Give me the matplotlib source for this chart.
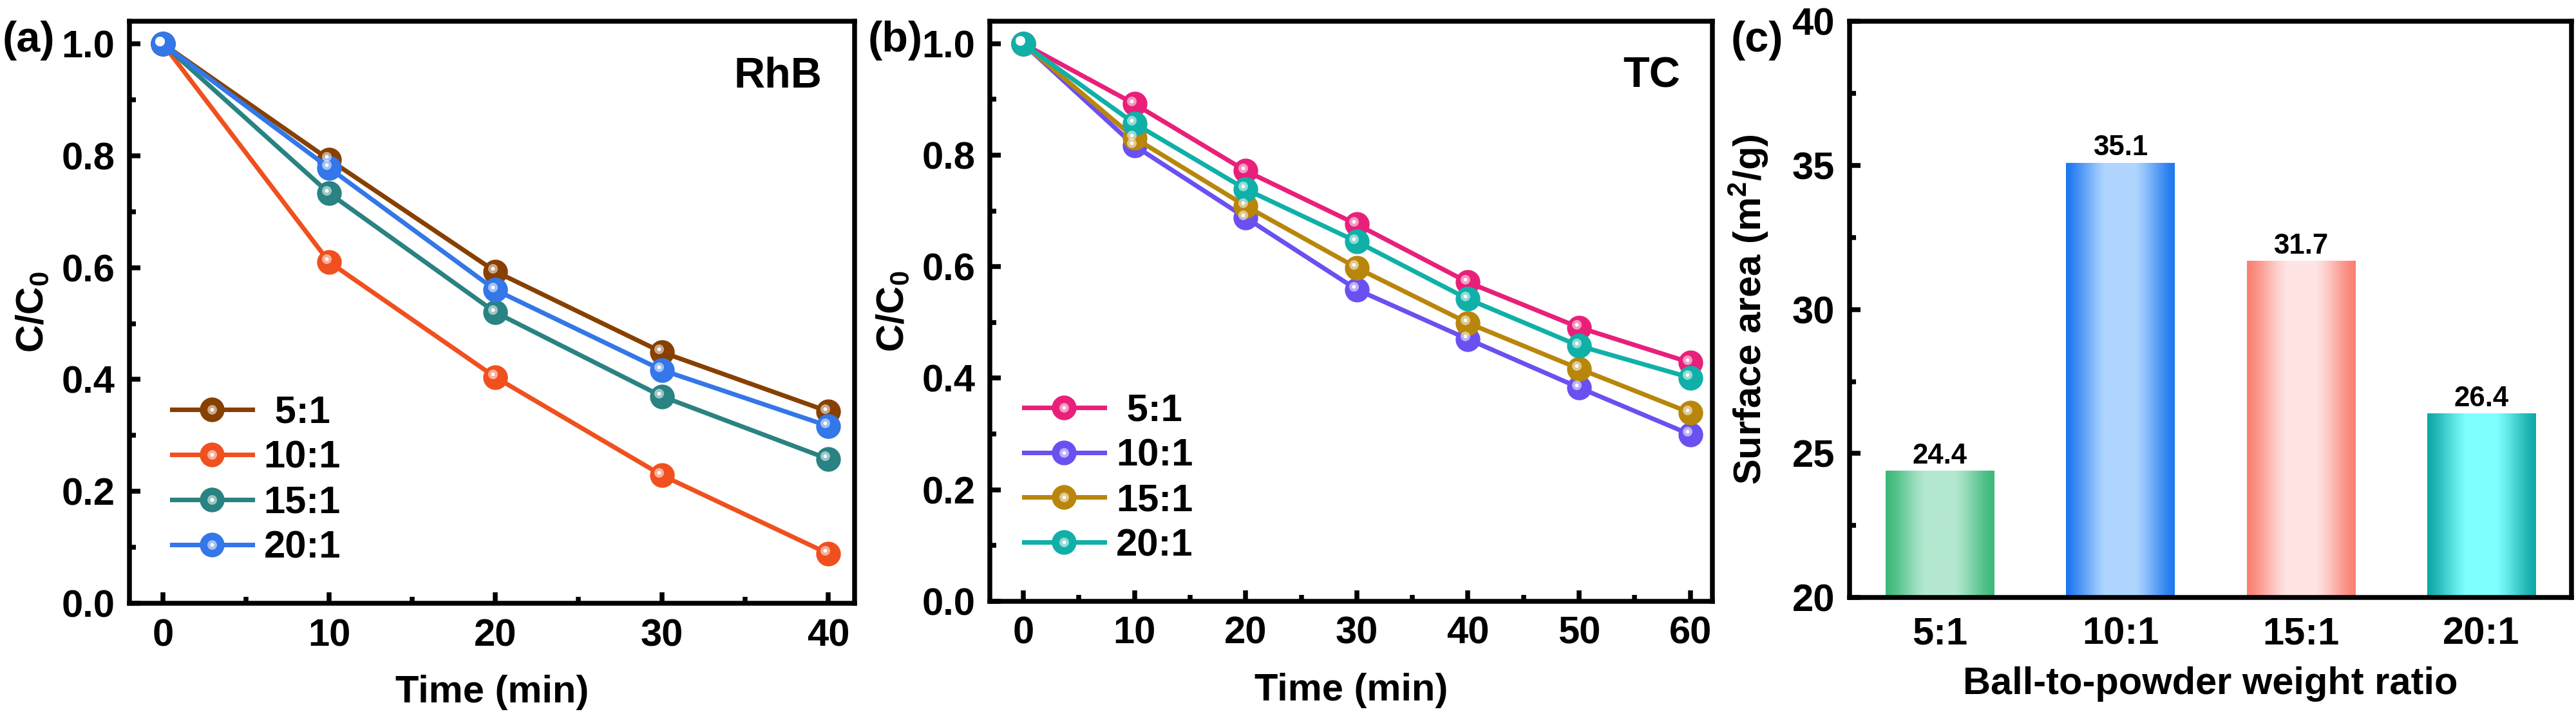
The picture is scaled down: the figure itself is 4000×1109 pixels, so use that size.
import numpy as np
import matplotlib
matplotlib.use("Agg")
import matplotlib.pyplot as plt
from matplotlib.ticker import MultipleLocator
from matplotlib.transforms import ScaledTranslation
from matplotlib.legend_handler import HandlerTuple
from matplotlib.colors import to_rgb

plt.rcParams['font.family'] = ['Liberation Sans', 'DejaVu Sans']
plt.rcParams['font.weight'] = 'bold'
plt.rcParams['axes.labelweight'] = 'bold'
plt.rcParams['mathtext.fontset'] = 'custom'
plt.rcParams['mathtext.rm'] = 'Liberation Sans:bold'
plt.rcParams['mathtext.it'] = 'Liberation Sans:bold'
plt.rcParams['mathtext.bf'] = 'Liberation Sans:bold'
plt.rcParams['mathtext.default'] = 'rm'

# ---- data ----
ratios = ['5:1', '10:1', '15:1', '20:1']

time_rhb = [0, 10, 20, 30, 40]
rhb_5 = [1.0, 0.793, 0.593, 0.449, 0.343]
rhb_10 = [1.0, 0.610, 0.404, 0.229, 0.089]
rhb_15 = [1.0, 0.733, 0.520, 0.370, 0.258]
rhb_20 = [1.0, 0.778, 0.560, 0.417, 0.317]

time_tc = [0, 10, 20, 30, 40, 50, 60]
tc_5 = [1.0, 0.892, 0.772, 0.676, 0.572, 0.491, 0.428]
tc_10 = [1.0, 0.817, 0.688, 0.559, 0.470, 0.383, 0.299]
tc_15 = [1.0, 0.831, 0.709, 0.598, 0.499, 0.417, 0.338]
tc_20 = [1.0, 0.857, 0.739, 0.645, 0.542, 0.458, 0.401]

surface_area = [24.4, 35.1, 31.7, 26.4]

colors_a = ['#874000', '#f0501e', '#2a8282', '#3377e8']
colors_b = ['#e8207a', '#6a50f0', '#b8860b', '#10b0a8']
bar_edge = ['#3cb878', '#1e78f0', '#fa8072', '#10a8a8']
bar_mid = ['#b4e8d0', '#b0d6ff', '#ffe4e4', '#80ffff']

DPI = 300
fig = plt.figure(figsize=(4000 / DPI, 1109 / DPI), dpi=DPI)

ax_a = fig.add_axes([0.0503, 0.155, 0.2815, 0.815])
ax_b = fig.add_axes([0.3843, 0.158, 0.2805, 0.812])
ax_c = fig.add_axes([0.718, 0.163, 0.2803, 0.807])

FS = 14.3


def style_axis(ax):
    for s in ax.spines.values():
        s.set_linewidth(1.8)
    ax.tick_params(which='major', direction='in', length=4, width=1.8,
                   labelsize=FS, pad=5.5, top=False, right=False)
    ax.tick_params(which='minor', direction='in', length=2.5, width=1.8,
                   top=False, right=False)


def line_panel(ax, t, series, colors, name, xlim, legend_x):
    hl_off = ScaledTranslation(-4.5 / DPI, 4.5 / DPI, fig.dpi_scale_trans)
    handles = []
    for y, c in zip(series, colors):
        main, = ax.plot(t, y, '-o', color=c, lw=1.7, ms=8.2, mec=c, mfc=c,
                        zorder=3)
        glow, = ax.plot(t, y, 'o', ls='none', ms=3.6, mfc='white', mec='none',
                        alpha=0.55, zorder=4,
                        transform=ax.transData + hl_off)
        dot, = ax.plot(t, y, 'o', ls='none', ms=1.4, mfc='white', mec='none',
                       zorder=5, transform=ax.transData + hl_off)
        handles.append((main, glow, dot))
    labels = [' ' + r if len(r) == 3 else r for r in ratios]
    ax.legend(handles, labels,
              handler_map={tuple: HandlerTuple(ndivide=1, pad=0)},
              loc='lower left', bbox_to_anchor=(legend_x, 0.065),
              frameon=False, fontsize=FS, borderpad=0, borderaxespad=0,
              handlelength=2.1, handletextpad=0.3, labelspacing=0.25)
    ax.set_xlim(*xlim)
    ax.set_ylim(0, 1.04)
    ax.xaxis.set_major_locator(MultipleLocator(10))
    ax.xaxis.set_minor_locator(MultipleLocator(5))
    ax.yaxis.set_major_locator(MultipleLocator(0.2))
    ax.yaxis.set_minor_locator(MultipleLocator(0.1))
    ax.yaxis.set_major_formatter(matplotlib.ticker.FormatStrFormatter('%.1f'))
    ax.set_xlabel('Time (min)', fontsize=FS, labelpad=8)
    ax.set_ylabel(r'C/C$_0$', fontsize=FS, labelpad=4)
    ax.text(0.955, 0.905, name, transform=ax.transAxes, ha='right',
            va='center', fontsize=16)
    style_axis(ax)


line_panel(ax_a, time_rhb, [rhb_5, rhb_10, rhb_15, rhb_20], colors_a, 'RhB',
           (-2, 41.6), 0.058)
line_panel(ax_b, time_tc, [tc_5, tc_10, tc_15, tc_20], colors_b, 'TC',
           (-3, 62), 0.047)

# ---- panel (c): gradient bars ----
xpos = np.arange(len(ratios))
ax_c.set_xlim(-0.5, 3.5)
ax_c.set_ylim(20, 40)
bars = ax_c.bar(xpos, surface_area, width=0.6, color='none', zorder=2)
ymin = ax_c.get_ylim()[0]
tt = np.linspace(0, 1, 200)
prof = np.clip(np.sin(np.pi * tt) ** 1.4 * 1.15, 0, 1)
for b, ce, cm in zip(bars, bar_edge, bar_mid):
    e = np.array(to_rgb(ce))
    m = np.array(to_rgb(cm))
    img = e[None, :] + (m - e)[None, :] * prof[:, None]
    im = ax_c.imshow(img[None, :, :], aspect='auto', zorder=2,
                     extent=(b.get_x(), b.get_x() + b.get_width(),
                             ymin, b.get_height()))
    im.set_clip_path(b)
ax_c.set_aspect('auto')
ax_c.set_xlim(-0.5, 3.5)
ax_c.set_ylim(20, 40)
ax_c.bar_label(bars, labels=['%.1f' % v for v in surface_area], padding=0.5,
               fontsize=10.5, fontweight='bold')
ax_c.set_xticks(xpos, ratios)
ax_c.yaxis.set_major_locator(MultipleLocator(5))
ax_c.yaxis.set_minor_locator(MultipleLocator(2.5))
ax_c.set_xlabel('Ball-to-powder weight ratio', fontsize=FS, labelpad=5.5)
ax_c.set_ylabel(r'Surface area (m$^2$/g)', fontsize=FS, labelpad=8)
style_axis(ax_c)
ax_c.tick_params(axis='x', which='both', length=0, pad=7)

for lab, x in zip(['(a)', '(b)', '(c)'], [0.001, 0.337, 0.672]):
    fig.text(x, 0.943, lab, fontsize=16, ha='left', va='center')

fig.savefig('out.png', dpi=DPI)
